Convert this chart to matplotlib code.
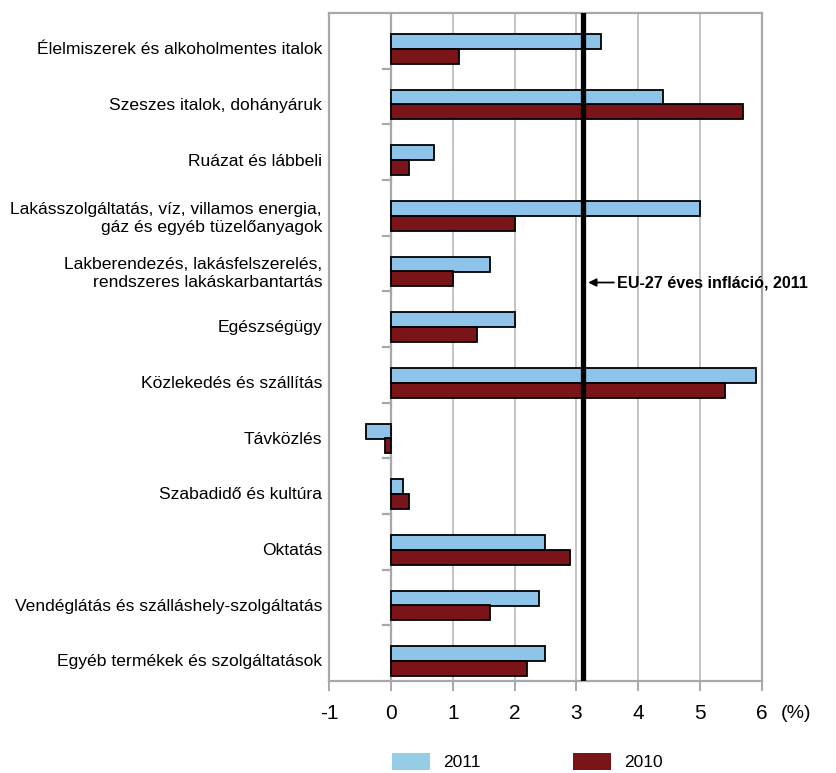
import matplotlib.pyplot as plt
import numpy as np
from matplotlib.patches import Patch

plt.rcParams['font.family'] = ['Liberation Sans Narrow', 'Liberation Sans', 'DejaVu Sans']
plt.rcParams['axes.unicode_minus'] = False

categories = [
    'Élelmiszerek és alkoholmentes italok',
    'Szeszes italok, dohányáruk',
    'Ruázat és lábbeli',
    'Lakásszolgáltatás, víz, villamos energia,\ngáz és egyéb tüzelőanyagok',
    'Lakberendezés, lakásfelszerelés,\nrendszeres lakáskarbantartás',
    'Egészségügy',
    'Közlekedés és szállítás',
    'Távközlés',
    'Szabadidő és kultúra',
    'Oktatás',
    'Vendéglátás és szálláshely-szolgáltatás',
    'Egyéb termékek és szolgáltatások',
]
v2011 = [3.4, 4.4, 0.7, 5.0, 1.6, 2.0, 5.9, -0.4, 0.2, 2.5, 2.4, 2.5]
v2010 = [1.1, 5.7, 0.3, 2.0, 1.0, 1.4, 5.4, -0.1, 0.3, 2.9, 1.6, 2.2]
eu_2011 = 3.1
xticks = [-1, 0, 1, 2, 3, 4, 5, 6]

blue = '#8ec4ea'
red = '#7a1418'
gray = '#a8a8a8'

fig = plt.figure(figsize=(8.36, 7.73), dpi=100)
ax = fig.add_axes([0.3935, 0.119, 0.518, 0.864])

y = np.arange(len(categories))
ax.barh(y + 0.01, v2011, height=0.27, color=blue, edgecolor='black', linewidth=1.3, zorder=3)
ax.barh(y + 0.275, v2010, height=0.27, color=red, edgecolor='black', linewidth=1.3, zorder=3)

ax.set_xlim(-1, 6)
ax.set_ylim(len(categories) - 0.5, -0.5)

# gridlines and the zero axis with category separators
ax.set_xticks(xticks)
ax.grid(axis='x', color='#c4c4c4', linewidth=1.4, zorder=0)
ax.axvline(0, color=gray, linewidth=1.6, zorder=2)
for b in np.arange(0.5, len(categories) - 0.5):
    ax.plot([-0.13, 0], [b, b], color=gray, linewidth=1.6, zorder=2)

for s in ax.spines.values():
    s.set_color(gray)
    s.set_linewidth(1.6)

ax.set_yticks(y + 0.13, categories, fontsize=12.6, linespacing=1.25)
ax.tick_params(axis='y', length=0, pad=5)
ax.tick_params(axis='x', length=7, width=1.4, color=gray, labelsize=15, pad=9.5)

ax.text(6.55, -0.048, '(%)', transform=ax.get_xaxis_transform(),
        ha='center', va='center', fontsize=14)

# EU-27 line and annotation
ax.axvline(eu_2011, color='black', linewidth=3.8, zorder=4)
ax.annotate('EU-27 éves infláció, 2011', xy=(3.19, 4.34), xytext=(3.65, 4.34),
            ha='left', va='center', fontsize=11.6, fontweight='bold', annotation_clip=False,
            arrowprops=dict(arrowstyle='-|>', color='black', lw=1.3, shrinkA=0, shrinkB=0))

handles = [Patch(facecolor='#96cde6', label='2011'), Patch(facecolor=red, label='2010')]
fig.legend(handles=handles, loc='upper left', bbox_to_anchor=(0.469, 0.026), ncol=2,
           frameon=False, fontsize=12.5, handlelength=2.19, handleheight=1.15,
           columnspacing=5.3, handletextpad=0.75, borderaxespad=0, borderpad=0)

fig.savefig('out.png', dpi=100)
